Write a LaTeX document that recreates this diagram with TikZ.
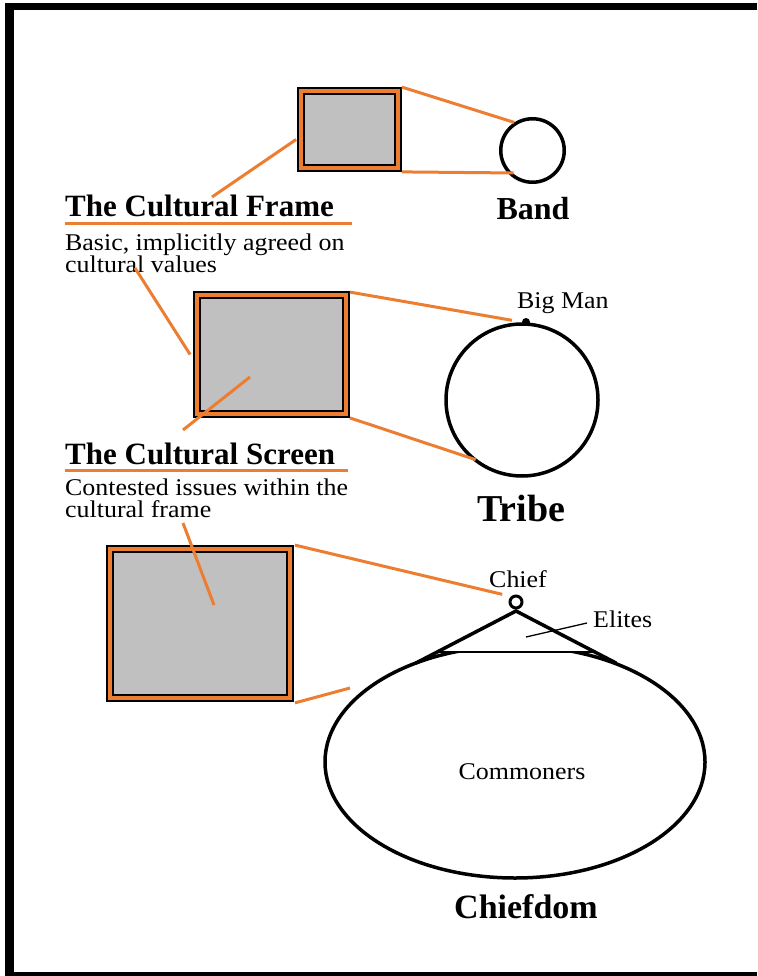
\documentclass[tikz,border=0pt]{standalone}
\usepackage{fontspec}
\newfontfamily\timesf{Liberation Serif}
\newfontfamily\garf[FakeStretch=1.08]{Liberation Serif}
\usetikzlibrary{calc,shapes.geometric}
\definecolor{oc}{RGB}{237,125,49}
\definecolor{gfill}{RGB}{192,192,192}
\newcommand\bodyfont{\garf\fontsize{24}{21.5}\selectfont\lineskiplimit=-30pt\relax}
\begin{document}
\begin{tikzpicture}[x=1pt,y=1pt,
  oline/.style={draw=oc,line width=3pt},
  cbox/.style={draw=black,double=oc,double distance=4.5pt,line width=1.8pt,fill=gfill,inner sep=0pt,rectangle},
  ttl/.style={font=\timesf\bfseries\fontsize{31}{31}\selectfont,anchor=base west,inner sep=0pt},
  body/.style={font=\bodyfont,align=left,anchor=north west,inner sep=0pt},
  small/.style={font=\garf\fontsize{24}{24}\selectfont,inner sep=0pt},
  big/.style={font=\timesf\bfseries\fontsize{#1}{#1}\selectfont,inner sep=0pt,anchor=base},
  thk/.style={draw=black,line width=3.5pt}
]
\useasboundingbox (0,0) rectangle (757,-976);
% frame
\fill[black] (5,-3) rectangle (757,-10);
\fill[black] (5,-3) rectangle (14,-976);
\fill[black] (5,-972) rectangle (757,-976);

% boxes
\node[cbox,minimum width=97pt,minimum height=77pt] (b1) at (349.5,-129.5) {};
\node[cbox,minimum width=149pt,minimum height=119pt] (b2) at (271.5,-354.5) {};
\node[cbox,minimum width=180pt,minimum height=149pt] (b3) at (200,-623.5) {};

% band
\node[circle,draw,line width=3.5pt,minimum size=63.5pt,inner sep=0pt] (band) at (532.5,-150.5) {};
\node[big=32] (bandt) at (533,-220) {Band};

% tribe
\node[circle,draw,line width=3.5pt,minimum size=152pt,inner sep=0pt] (tribe) at (522,-400) {};
\node[circle,fill=black,minimum size=8pt,inner sep=0pt] (bm) at (526,-322) {};
\node[small,anchor=base west] (bmt) at (517,-308) {Big Man};
\node[big=38] (tribet) at (521,-521) {Tribe};

% chiefdom
\node[ellipse,thk,minimum width=380pt,minimum height=232pt,inner sep=0pt] (chiefdom) at (515,-762) {};
\node[circle,draw,line width=3pt,minimum size=12pt,inner sep=0pt] (chief) at (516,-602) {};
\node[small,anchor=base] (chieft) at (518,-587) {Chief};
\coordinate (apex) at (516,-611);
\coordinate (bl) at (437,-652);
\coordinate (br) at (595,-652);
\coordinate (jl) at (416,-663);
\coordinate (jr) at (616,-663);
\fill[white] (apex) -- (bl) -- (br) -- cycle;
\draw[thk,line cap=round] (jl) -- (apex) -- (jr);
\draw[line width=1.3pt] (bl) -- (br);
\node[small,anchor=base west] (elt) at (593,-627) {Elites};
\coordinate (elp) at (526,-637);
\draw[line width=1.3pt] (elp) -- ([xshift=-6pt,yshift=4pt]elt.base west);
\node[small] (comm) at (522,-772) {Commoners};
\node[big=34] (chiefdomt) at (526,-918) {Chiefdom};

% labels
\node[ttl] (t1) at (65,-217) {The Cultural Frame};
\draw[oline] ([yshift=-7pt]t1.base west) -- ++(287,0);
\node[body] (d1) at (65,-234) {Basic, implicitly agreed on\\cultural values};
\node[ttl] (t2) at (65,-464) {The Cultural Screen};
\draw[oline] ([yshift=-6pt]t2.base west) -- ++(283,0);
\node[body] (d2) at (65,-479) {Contested issues within the\\cultural frame};

% orange connectors
\coordinate (p1) at (212,-197);
\coordinate (p2) at (135,-268);
\coordinate (p3) at (250,-377);
\coordinate (p4) at (183,-430);
\coordinate (p5) at (183,-523);
\coordinate (p6) at (214,-605);
\coordinate (p7) at (350,-688);
\draw[oline] ([xshift=3pt,yshift=3pt]b1.north east) -- (band.123);
\draw[oline,shorten >=-6pt] ([xshift=3pt,yshift=-3pt]b1.south east) -- (band.222);
\draw[oline] (p1) -- ([xshift=-4pt,yshift=-10pt]b1.west);
\draw[oline] (p2) -- ([xshift=-6pt]b2.west);
\draw[oline,shorten >=10pt] ([xshift=3pt,yshift=2pt]b2.north east) -- (bm.west);
\draw[oline,shorten >=-6pt] ([xshift=3pt,yshift=-3pt]b2.south east) -- (tribe.228);
\draw[oline] (p4) -- (p3);
\draw[oline] (p5) -- (p6);
\draw[oline,shorten >=9pt] ([xshift=4pt,yshift=3pt]b3.north east) -- (chief.132);
\draw[oline] ([xshift=4pt,yshift=-4pt]b3.south east) -- (p7);
\end{tikzpicture}
\end{document}
